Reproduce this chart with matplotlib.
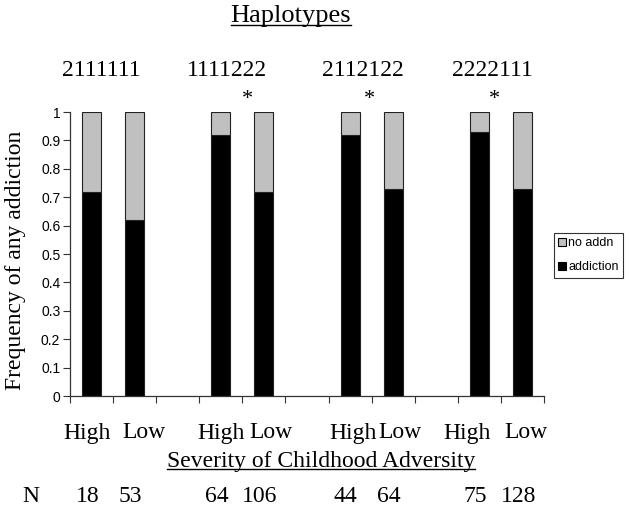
import matplotlib
matplotlib.use("Agg")
import matplotlib.pyplot as plt
import matplotlib.transforms as mtransforms
from matplotlib.patches import Patch
from matplotlib.lines import Line2D
import numpy as np

# data
haplotypes = ['2111111', '1111222', '2112122', '2222111']
severity = ['High', 'Low', 'High', 'Low', 'High', 'Low', 'High', 'Low']
addiction = [0.72, 0.62, 0.92, 0.72, 0.92, 0.73, 0.93, 0.73]
n_counts = [18, 53, 64, 106, 44, 64, 75, 128]
significant = [False, True, True, True]

# the labels in the original are hand placed, not exactly under the bars
sev_shift = [-0.1, 0.22, 0.0, 0.16, 0.07, 0.16, -0.29, 0.08]
hap_shift = [0.22, 0.14, 0.3, 0.31]
star_shift = [0.5, 0.63, 0.46, 0.36]

serif = 'Liberation Serif'
sans = 'Liberation Sans'
grey = '#C0C0C0'

W, H = 630, 507
fig = plt.figure(figsize=(W / 100, H / 100), dpi=100)
ax = fig.add_axes([70 / W, 1 - 396 / H, 474 / W, 284 / H])

# two bars per haplotype, an empty slot between groups
pos = np.array([g * 3 + j for g in range(len(haplotypes)) for j in range(2)])
add = np.array(addiction)
no_add = 1 - add

ax.bar(pos, add, width=0.44, color='black', edgecolor='#222222', linewidth=0.8, label='addiction')
ax.bar(pos, no_add, width=0.44, bottom=add, color=grey, edgecolor='#222222', linewidth=0.8, label='no addn')

ax.set_xlim(-0.5, 10.5)
ax.set_ylim(0, 1)
ax.set_yticks(np.arange(0, 1.01, 0.1))
ax.set_yticklabels(['0'] + ['%.1f' % v for v in np.arange(0.1, 0.95, 0.1)] + ['1'],
                   fontfamily=sans, fontsize=10)
ax.set_xticks(np.arange(-0.5, 10.6, 1))
ax.set_xticklabels([])
ax.tick_params(axis='both', direction='out', length=5, width=0.8, color='#333333', pad=2)
for s in ['top', 'right']:
    ax.spines[s].set_visible(False)
for s in ['left', 'bottom']:
    ax.spines[s].set_color('#333333')
    ax.spines[s].set_linewidth(0.9)

fig.text(16 / W, 1 - 260 / H, 'Frequency of any addiction', rotation=90, ha='center',
         va='center', fontfamily=serif, fontsize=17)

bx = mtransforms.blended_transform_factory(ax.transData, fig.transFigure)

# High / Low under each bar
for p, lab, d in zip(pos, severity, sev_shift):
    ax.text(p + d, 1 - 433 / H, lab, transform=bx, ha='center', va='center',
            fontfamily=serif, fontsize=17)

# N counts
fig.text(31 / W, 1 - 496 / H, 'N', ha='center', va='center', fontfamily=serif, fontsize=17)
for p, n in zip(pos, n_counts):
    ax.text(p - 0.1, 1 - 496 / H, str(n), transform=bx, ha='center', va='center',
            fontfamily=serif, fontsize=17)

# haplotype labels and asterisks
for g, (hap, sig) in enumerate(zip(haplotypes, significant)):
    ax.text(g * 3 + hap_shift[g], 1 - 71 / H, hap, transform=bx, ha='center', va='center',
            fontfamily=serif, fontsize=17)
    if sig:
        ax.text(g * 3 + star_shift[g], 1 - 99 / H, '*', transform=bx, ha='center', va='center',
                fontfamily=serif, fontsize=16)

title = fig.text(291 / W, 1 - 16 / H, 'Haplotypes', ha='center', va='center',
                 fontfamily=serif, fontsize=19)
xlab = fig.text(321 / W, 1 - 461 / H, 'Severity of Childhood Adversity', ha='center',
                va='center', fontfamily=serif, fontsize=17)

# underline the two headings
fig.canvas.draw()
r = fig.canvas.get_renderer()
for t, yline in [(title, 25), (xlab, 469)]:
    bb = t.get_window_extent(r)
    fig.add_artist(Line2D([bb.x0 / W, bb.x1 / W], [1 - yline / H, 1 - yline / H],
                          transform=fig.transFigure, color='black', linewidth=1))

handles = [Patch(facecolor=grey, edgecolor='black', linewidth=0.8, label='no addn'),
           Patch(facecolor='black', edgecolor='black', linewidth=0.8, label='addiction')]
leg = fig.legend(handles=handles, loc='upper left', bbox_to_anchor=(554 / W, 1 - 233 / H),
                 prop={'family': sans, 'size': 9}, frameon=True, fancybox=False,
                 handlelength=0.6, handleheight=0.6, handletextpad=0.2,
                 borderpad=0.35, labelspacing=0.95, borderaxespad=0)
leg.get_frame().set_edgecolor('black')
leg.get_frame().set_linewidth(0.8)

fig.savefig('out.png', dpi=100)
